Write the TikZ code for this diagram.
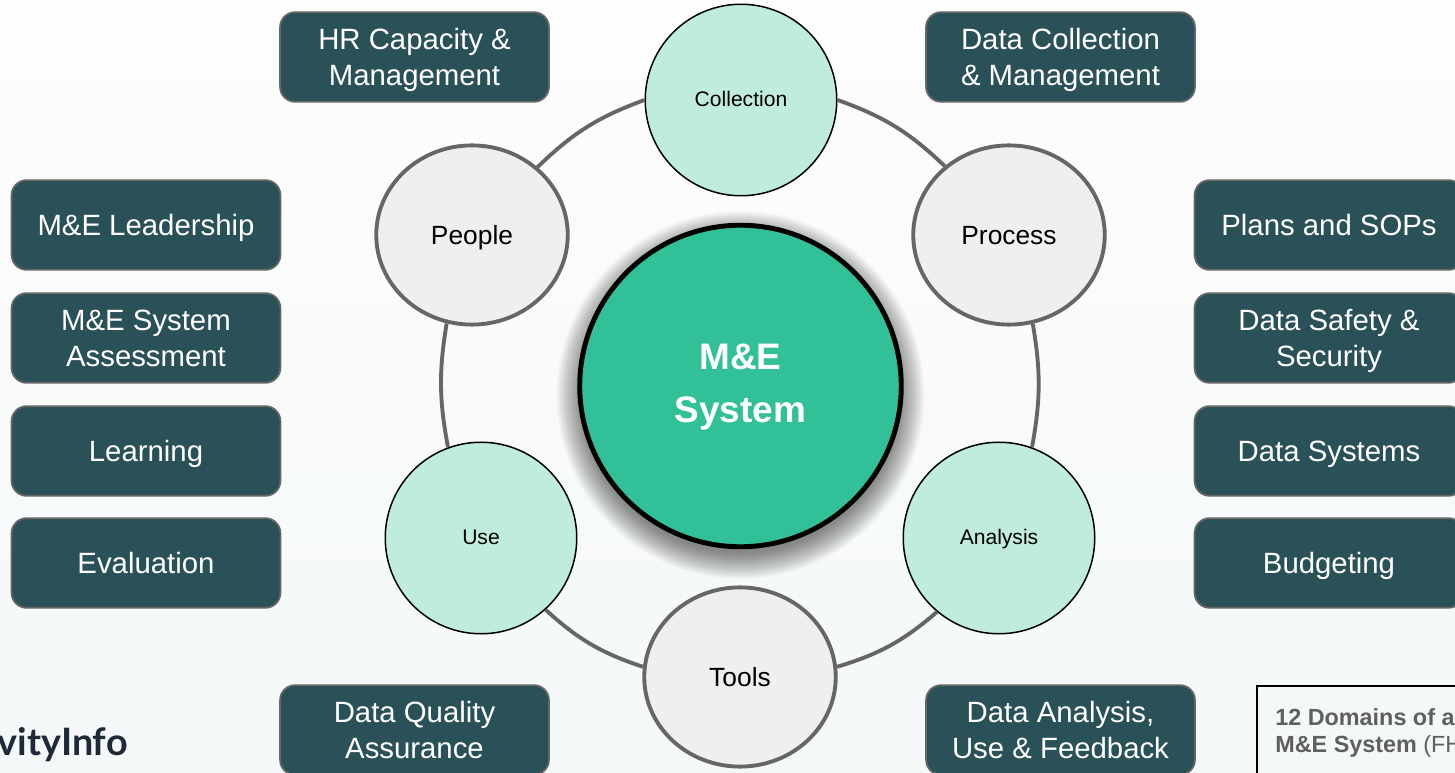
\documentclass[tikz,border=0pt]{standalone}
\usepackage{fontspec}
\setmainfont{Liberation Sans}
\newfontfamily\logofont{Lato}
\usetikzlibrary{shapes.geometric}
\definecolor{bgtop}{HTML}{FDFDFC}
\definecolor{bgmid}{HTML}{FBFCFB}
\definecolor{bgbot}{HTML}{F4F8F9}
\definecolor{domainfill}{HTML}{2A5157}
\definecolor{mainfill}{HTML}{32C098}
\definecolor{mintfill}{HTML}{BFECDF}
\definecolor{greyfill}{HTML}{EFEFEF}
\definecolor{ringline}{HTML}{666666}
\definecolor{notetext}{HTML}{5F5F5F}
\definecolor{logotext}{HTML}{1F2937}
\tikzset{
  strutted/.style 2 args={execute at begin node=\rule{0pt}{#1}, execute at end node=\rule[-#2]{0pt}{#2}},
  domainbase/.style={draw=ringline, line width=1pt, fill=domainfill, rounded corners=8.5pt, text=white, minimum width=153pt, minimum height=51pt, inner sep=0pt, align=center, font=\fontsize{16.7}{20.5}\selectfont},
  domainbox/.style={domainbase, strutted={16.15pt}{4.35pt}},
  domainpair/.style={domainbase, text depth=0pt},
  mintcircle/.style={circle, draw=black, line width=0.85pt, fill=mintfill, minimum size=109pt, inner sep=0pt, font=\fontsize{12}{18}\selectfont, strutted={12.6pt}{5.4pt}},
  greycircle/.style={ellipse, draw=ringline, line width=2.2pt, fill=greyfill, minimum width=109pt, minimum height=102pt, inner sep=0pt, font=\fontsize{15}{26}\selectfont, strutted={18.2pt}{7.8pt}},
  ringarc/.style={draw=ringline, line width=2.2pt}
}
\begin{document}
\begin{tikzpicture}[x=0.02cm, y=-0.02cm]
   \useasboundingbox (0,0) rectangle (1455,773);
   \shade[top color=bgtop, middle color=bgmid, bottom color=bgbot, draw=none] (0,0) rectangle (1455,773);

   % ring
   \node[mintcircle] (collection) at (741,100) {Collection};
   \node[greycircle] (people) at (472,235) {People};
   \node[greycircle] (process) at (1009,235) {Process};
   \node[mintcircle] (use) at (481,538) {Use};
   \node[mintcircle] (analysis) at (999,538) {Analysis};
   \node[greycircle] (tools) at (740,677) {Tools};

   \draw[ringarc] (collection.180) to[bend right=12] (people.46);
   \draw[ringarc] (people.254) to[bend right=10] (use.110);
   \draw[ringarc] (use.-48) to[bend right=12] (tools.174);
   \draw[ringarc] (tools.6) to[bend right=12] (analysis.230);
   \draw[ringarc] (analysis.70) to[bend right=10] (process.285);
   \draw[ringarc] (process.133) to[bend right=12] (collection.0);

   % soft shadow under the centre
   \foreach \r in {184,183,...,158}
     \fill[black, opacity=0.02] (740.5,395) circle[radius=\r];
   \node[circle, draw=black, line width=2.8pt, fill=mainfill, minimum size=183pt, inner sep=0pt, align=center, text=white, font=\fontsize{21}{30}\selectfont\bfseries, text depth=3.4pt] (system) at (740.5,386) {M\&E\\System};

   % top and bottom
   \node[domainpair] (hr) at (414.5,57) {HR Capacity \&\\Management};
   \node[domainpair] (collect) at (1060.5,57) {Data Collection\\\& Management};
   \node[domainpair] (quality) at (414.5,730) {Data Quality\\Assurance};
   \node[domainpair] (feedback) at (1060.5,730) {Data Analysis,\\Use \& Feedback};

   % left
   \node[domainbox] (leadership) at (146,225) {M\&E Leadership};
   \node[domainpair] (assessment) at (146,338) {M\&E System\\Assessment};
   \node[domainbox] (learning) at (146,451) {Learning};
   \node[domainbox] (evaluation) at (146,563) {Evaluation};

   % right
   \node[domainbox] (plans) at (1329,225) {Plans and SOPs};
   \node[domainpair] (safety) at (1329,338) {Data Safety \&\\Security};
   \node[domainbox] (systems) at (1329,451) {Data Systems};
   \node[domainbox] (budgeting) at (1329,563) {Budgeting};

   % logo and note
   \node[anchor=east, inner sep=0pt, text=logotext, font=\logofont\fontsize{21.5}{24}\selectfont\bfseries] (logo) at (128,745) {vityInfo};
   \draw[draw=black, line width=1.2pt] (1257,686) rectangle (1480,790);
   \node[anchor=north west, inner sep=0pt, align=left, text=notetext, font=\fontsize{13.3}{15.3}\selectfont] (note) at (1275,708.5) {\textbf{12 Domains of a}\\\textbf{M\&E System} (FH};
\end{tikzpicture}
\end{document}
